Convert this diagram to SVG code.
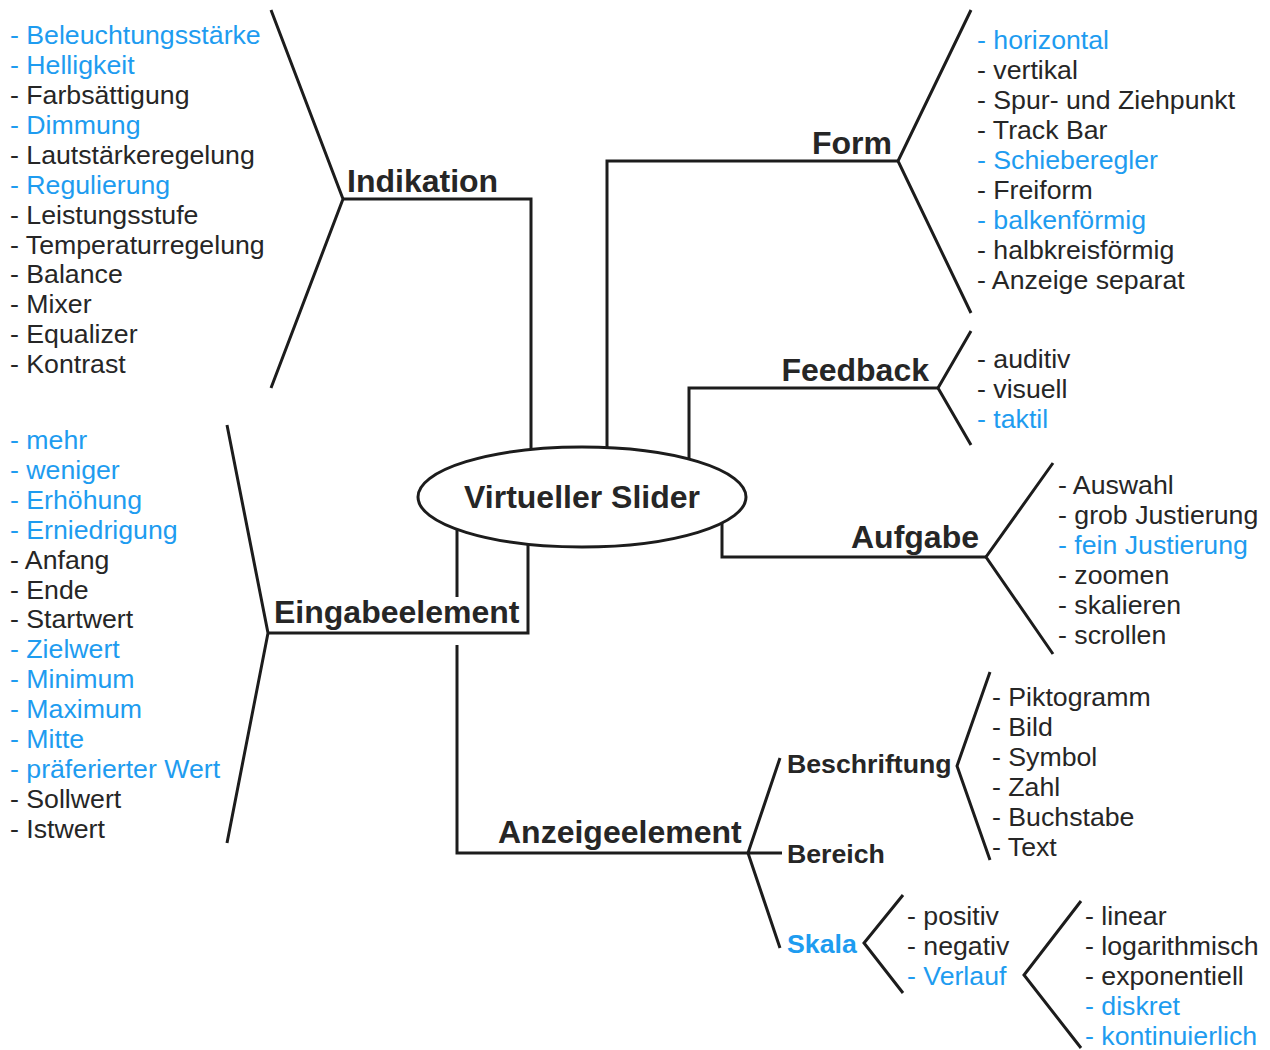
<svg xmlns="http://www.w3.org/2000/svg" width="1270" height="1050" viewBox="0 0 1270 1050">
  <style>
    .ln { fill: none; stroke: #1c1c1c; stroke-width: 3; stroke-linejoin: miter; }
    .item { font-family: "Liberation Sans", Arial, sans-serif; font-size: 26.7px; fill: #262626; }
    .head { font-family: "Liberation Sans", Arial, sans-serif; font-weight: bold; font-size: 32px; fill: #262626; }
    .sub { font-family: "Liberation Sans", Arial, sans-serif; font-weight: bold; font-size: 26.7px; fill: #262626; }
    .item.blue, .sub.blue { fill: #1e9cf0; }
  </style>
  <rect width="1270" height="1050" fill="#ffffff"/>

  <!-- connectors and brackets -->
  <g id="connectors" class="ln">
    <path d="M531,449 V199 H343"/>
    <path d="M607,448 V161 H898"/>
    <path d="M689,459 V388 H938"/>
    <path d="M722,523 V557 H986"/>
    <path d="M528,544 V633 H268"/>
    <path d="M457,529 V597"/>
    <path d="M457,645 V853 H748"/>
    <path d="M271,10 L343,199 L271,388"/>
    <path d="M971,10 L898,161 L971,313"/>
    <path d="M971,331 L938,388 L971,445"/>
    <path d="M1053,463 L986,557 L1053,654"/>
    <path d="M227,425 L268,633 L227,843"/>
    <path d="M780,758 L748,853 L780,948 M748,853 H782"/>
    <path d="M990,672 L957,766 L990,860"/>
    <path d="M903,895 L864,943 L903,993"/>
    <path d="M1081,901 L1024,975 L1081,1048"/>
  </g>

  <!-- central node -->
  <g id="center">
    <ellipse cx="582" cy="497" rx="164" ry="50" fill="#ffffff" stroke="#1c1c1c" stroke-width="3"/>
    <text class="head" x="582" y="508" text-anchor="middle">Virtueller Slider</text>
  </g>

  <g id="indikation">
    <text class="head" x="347" y="192">Indikation</text>
    <text class="item blue" x="10" y="44">- Beleuchtungsstärke</text>
    <text class="item blue" x="10" y="74">- Helligkeit</text>
    <text class="item" x="10" y="104">- Farbsättigung</text>
    <text class="item blue" x="10" y="134">- Dimmung</text>
    <text class="item" x="10" y="164">- Lautstärkeregelung</text>
    <text class="item blue" x="10" y="194">- Regulierung</text>
    <text class="item" x="10" y="224">- Leistungsstufe</text>
    <text class="item" x="10" y="254">- Temperaturregelung</text>
    <text class="item" x="10" y="283">- Balance</text>
    <text class="item" x="10" y="313">- Mixer</text>
    <text class="item" x="10" y="343">- Equalizer</text>
    <text class="item" x="10" y="373">- Kontrast</text>
  </g>

  <g id="form">
    <text class="head" x="892" y="154" text-anchor="end">Form</text>
    <text class="item blue" x="977" y="49">- horizontal</text>
    <text class="item" x="977" y="79">- vertikal</text>
    <text class="item" x="977" y="109">- Spur- und Ziehpunkt</text>
    <text class="item" x="977" y="139">- Track Bar</text>
    <text class="item blue" x="977" y="169">- Schieberegler</text>
    <text class="item" x="977" y="199">- Freiform</text>
    <text class="item blue" x="977" y="229">- balkenförmig</text>
    <text class="item" x="977" y="259">- halbkreisförmig</text>
    <text class="item" x="977" y="289">- Anzeige separat</text>
  </g>

  <g id="feedback">
    <text class="head" x="929" y="381" text-anchor="end">Feedback</text>
    <text class="item" x="977" y="368">- auditiv</text>
    <text class="item" x="977" y="398">- visuell</text>
    <text class="item blue" x="977" y="428">- taktil</text>
  </g>

  <g id="aufgabe">
    <text class="head" x="979" y="548" text-anchor="end">Aufgabe</text>
    <text class="item" x="1058" y="494">- Auswahl</text>
    <text class="item" x="1058" y="524">- grob Justierung</text>
    <text class="item blue" x="1058" y="554">- fein Justierung</text>
    <text class="item" x="1058" y="584">- zoomen</text>
    <text class="item" x="1058" y="614">- skalieren</text>
    <text class="item" x="1058" y="644">- scrollen</text>
  </g>

  <g id="eingabeelement">
    <text class="head" x="274" y="623">Eingabeelement</text>
    <text class="item blue" x="10" y="449">- mehr</text>
    <text class="item blue" x="10" y="479">- weniger</text>
    <text class="item blue" x="10" y="509">- Erhöhung</text>
    <text class="item blue" x="10" y="539">- Erniedrigung</text>
    <text class="item" x="10" y="569">- Anfang</text>
    <text class="item" x="10" y="599">- Ende</text>
    <text class="item" x="10" y="628">- Startwert</text>
    <text class="item blue" x="10" y="658">- Zielwert</text>
    <text class="item blue" x="10" y="688">- Minimum</text>
    <text class="item blue" x="10" y="718">- Maximum</text>
    <text class="item blue" x="10" y="748">- Mitte</text>
    <text class="item blue" x="10" y="778">- präferierter Wert</text>
    <text class="item" x="10" y="808">- Sollwert</text>
    <text class="item" x="10" y="838">- Istwert</text>
  </g>

  <g id="anzeigeelement">
    <text class="head" x="498" y="843">Anzeigeelement</text>
  </g>

  <g id="beschriftung">
    <text class="sub" x="787" y="773">Beschriftung</text>
    <text class="item" x="992" y="706">- Piktogramm</text>
    <text class="item" x="992" y="736">- Bild</text>
    <text class="item" x="992" y="766">- Symbol</text>
    <text class="item" x="992" y="796">- Zahl</text>
    <text class="item" x="992" y="826">- Buchstabe</text>
    <text class="item" x="992" y="856">- Text</text>
  </g>

  <g id="bereich">
    <text class="sub" x="787" y="863">Bereich</text>
  </g>

  <g id="skala">
    <text class="sub blue" x="787" y="953">Skala</text>
    <text class="item" x="907" y="925">- positiv</text>
    <text class="item" x="907" y="955">- negativ</text>
    <text class="item blue" x="907" y="985">- Verlauf</text>
  </g>

  <g id="verlauf">
    <text class="item" x="1085" y="925">- linear</text>
    <text class="item" x="1085" y="955">- logarithmisch</text>
    <text class="item" x="1085" y="985">- exponentiell</text>
    <text class="item blue" x="1085" y="1015">- diskret</text>
    <text class="item blue" x="1085" y="1045">- kontinuierlich</text>
  </g>
</svg>
